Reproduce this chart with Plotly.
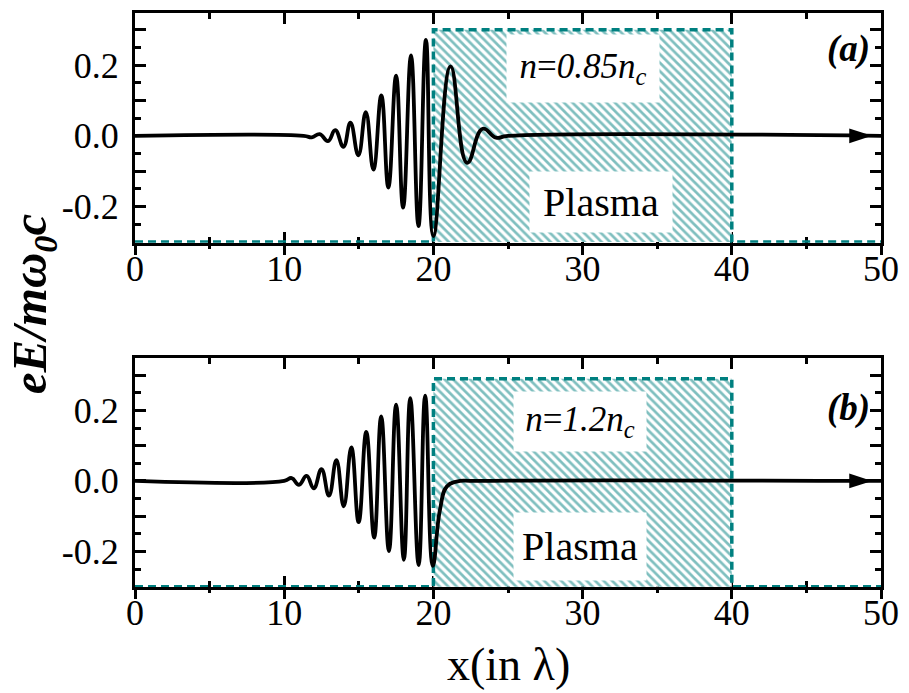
import plotly.graph_objects as go

# ---- field profiles, eE/(m w0 c) versus x (in laser wavelengths) ----
# (a) n = 0.85 n_c : peaks/troughs of the incident packet and the fields inside the plasma
x_a = [0, 11.3, 11.85, 12.38, 12.93, 13.42, 13.97, 14.44, 14.97, 15.47, 15.98,
       16.51, 16.98, 17.5, 17.97, 18.5, 19.0, 19.5, 20.0, 21.15, 22.26, 23.3,
       24.2, 25.0, 50]
e_a = [0, 0, -0.004, 0.005, -0.015, 0.016, -0.031, 0.037, -0.055, 0.067, -0.095,
       0.114, -0.146, 0.170, -0.203, 0.227, -0.255, 0.271, -0.283, 0.196, -0.076,
       0.020, -0.005, 0, 0]

# (b) n = 1.2 n_c : evanescent decay behind the plasma boundary
x_b = [0, 10.0, 10.5, 10.99, 11.5, 11.98, 12.5, 13.0, 13.5, 13.99, 14.5, 14.99,
       15.5, 16.03, 16.5, 17.02, 17.5, 18.02, 18.45, 19.01, 19.45, 19.96, 20.44,
       20.9, 21.55, 22.9, 50]
e_b = [0, 0, 0.008, -0.011, 0.014, -0.021, 0.033, -0.042, 0.059, -0.072, 0.095,
       -0.117, 0.139, -0.161, 0.183, -0.199, 0.216, -0.224, 0.235, -0.239, 0.242,
       -0.241, -0.082, -0.016, -0.002, 0, 0]

# plasma slab (step density profile drawn on the field axes)
slab_x = [0, 20, 20, 40, 40, 50]
slab_a = [-0.3, -0.3, 0.30, 0.30, -0.3, -0.3]
slab_b = [-0.3, -0.3, 0.29, 0.29, -0.3, -0.3]

density_labels = ["<i>n</i>=<i>0.85n<sub>c</sub></i>", "<i>n</i>=<i>1.2n<sub>c</sub></i>"]
panel_labels = ["<b><i>(a)</i></b>", "<b><i>(b)</i></b>"]

x_ticks = [0, 10, 20, 30, 40, 50]
y_ticks = [-0.3, -0.2, -0.1, 0.0, 0.1, 0.2, 0.3]
y_ticktext = ["", "-0.2", "", "0.0", "", "0.2", ""]

arrow_tip = 49.4

TEAL = "#008080"
FONT = "'Liberation Serif', 'Times New Roman', serif"

fig = go.Figure()


def add_panel(xs, es, slab_y, xref, yref):
    # hatched slab interior
    fig.add_trace(go.Scatter(
        x=[slab_x[1], slab_x[2], slab_x[3], slab_x[4], slab_x[1]],
        y=[slab_y[1], slab_y[2], slab_y[3], slab_y[4], slab_y[1]],
        fill="toself", mode="none", fillcolor="rgba(0,0,0,0)",
        fillpattern=dict(shape="\\", fgcolor=TEAL, bgcolor="white",
                         size=6, solidity=0.45),
        xaxis=xref, yaxis=yref, showlegend=False, hoverinfo="skip"))
    # slab outline
    fig.add_trace(go.Scatter(
        x=slab_x, y=slab_y, mode="lines",
        line=dict(color=TEAL, width=3.5, dash="8px,5px"),
        xaxis=xref, yaxis=yref, showlegend=False, hoverinfo="skip"))
    # field
    fig.add_trace(go.Scatter(
        x=xs, y=es, mode="lines",
        line=dict(color="black", width=3.8, shape="spline", smoothing=1.3),
        xaxis=xref, yaxis=yref, showlegend=False))
    # propagation arrow
    fig.add_trace(go.Scatter(
        x=[arrow_tip], y=[0], mode="markers",
        marker=dict(symbol="arrow", angle=90, size=24, color="black"),
        xaxis=xref, yaxis=yref, showlegend=False, hoverinfo="skip"))


add_panel(x_a, e_a, slab_a, "x", "y")
add_panel(x_b, e_b, slab_b, "x2", "y2")
# empty traces so the outward tick overlays get drawn
fig.add_trace(go.Scatter(x=[], y=[], xaxis="x3", yaxis="y", showlegend=False))
fig.add_trace(go.Scatter(x=[], y=[], xaxis="x4", yaxis="y2", showlegend=False))

tickfont = dict(family=FONT, size=36, color="black")

xcommon = dict(range=[0, 50], tickvals=x_ticks, showline=True, linewidth=3,
               linecolor="black", mirror="ticks", ticks="inside", ticklen=11,
               tickwidth=2.5, tickcolor="black", showgrid=False, zeroline=False,
               minor=dict(dtick=5, ticks="inside", ticklen=6, tickwidth=2.5,
                          tickcolor="black"),
               tickfont=tickfont, layer="below traces", ticklabelstandoff=-8)
xover = dict(range=[0, 50], tickvals=x_ticks, showline=False, ticks="outside",
             ticklen=11, tickwidth=2.5, tickcolor="black", showgrid=False,
             zeroline=False, showticklabels=False,
             minor=dict(dtick=5, ticks="outside", ticklen=5, tickwidth=2.5,
                        tickcolor="black"))
ycommon = dict(tickvals=y_ticks, ticktext=y_ticktext, showline=True, linewidth=3,
               linecolor="black", mirror="ticks", ticks="inside", ticklen=11,
               tickwidth=2.5, tickcolor="black", showgrid=False, zeroline=False,
               minor=dict(dtick=0.05, ticks="inside", ticklen=6, tickwidth=2.5,
                          tickcolor="black"),
               tickfont=tickfont, layer="below traces", ticklabelstandoff=6)

top_dom = [0.5997, 1.0]
bot_dom = [0.0, 0.3986]

fig.update_layout(
    width=909, height=693,
    margin=dict(l=135, r=20, t=10, b=106),
    paper_bgcolor="white", plot_bgcolor="white",
    font=dict(family=FONT, color="black"),
    xaxis=dict(**xcommon, anchor="y", domain=[0, 1]),
    yaxis=dict(**ycommon, anchor="x", domain=top_dom, range=[-0.302, 0.347]),
    xaxis2=dict(**xcommon, anchor="y2", domain=[0, 1]),
    yaxis2=dict(**ycommon, anchor="x2", domain=bot_dom, range=[-0.301, 0.348]),
    xaxis3=dict(**xover, overlaying="x", anchor="y", side="bottom"),
    xaxis4=dict(**xover, overlaying="x2", anchor="y2", side="bottom"),
)

ann = []
dens_font = dict(family=FONT, size=35, color="black")
plasma_font = dict(family=FONT, size=40, color="black")
# density labels and slab names on white backing boxes
ann.append(dict(x=30.0, y=0.191, xref="x", yref="y", text=density_labels[0],
                showarrow=False, bgcolor="white", width=150, height=65,
                font=dens_font))
ann.append(dict(x=31.2, y=-0.187, xref="x", yref="y", text="Plasma",
                showarrow=False, bgcolor="white", width=140, height=58,
                font=plasma_font))
ann.append(dict(x=29.8, y=0.168, xref="x2", yref="y2", text=density_labels[1],
                showarrow=False, bgcolor="white", width=130, height=57,
                font=dens_font))
ann.append(dict(x=29.8, y=-0.186, xref="x2", yref="y2", text="Plasma",
                showarrow=False, bgcolor="white", width=130, height=65,
                font=plasma_font))
# panel tags
ann.append(dict(x=47.8, y=0.246, xref="x", yref="y", text=panel_labels[0],
                showarrow=False, font=dict(family=FONT, size=37, color="black")))
ann.append(dict(x=47.8, y=0.206, xref="x2", yref="y2", text=panel_labels[1],
                showarrow=False, font=dict(family=FONT, size=37, color="black")))
# axis titles
ann.append(dict(x=-0.137, y=0.494, xref="paper", yref="paper",
                xanchor="center", yanchor="middle",
                text="<b><i>eE/m\u03c9<sub>0</sub>c</i></b>", textangle=-90,
                showarrow=False, font=dict(family=FONT, size=49, color="black")))
ann.append(dict(x=0.5, y=-0.135, xref="paper", yref="paper",
                xanchor="center", yanchor="middle",
                text="x(in \u03bb)", showarrow=False,
                font=dict(family=FONT, size=46, color="black")))
fig.update_layout(annotations=ann)

fig.write_html("out.html")
